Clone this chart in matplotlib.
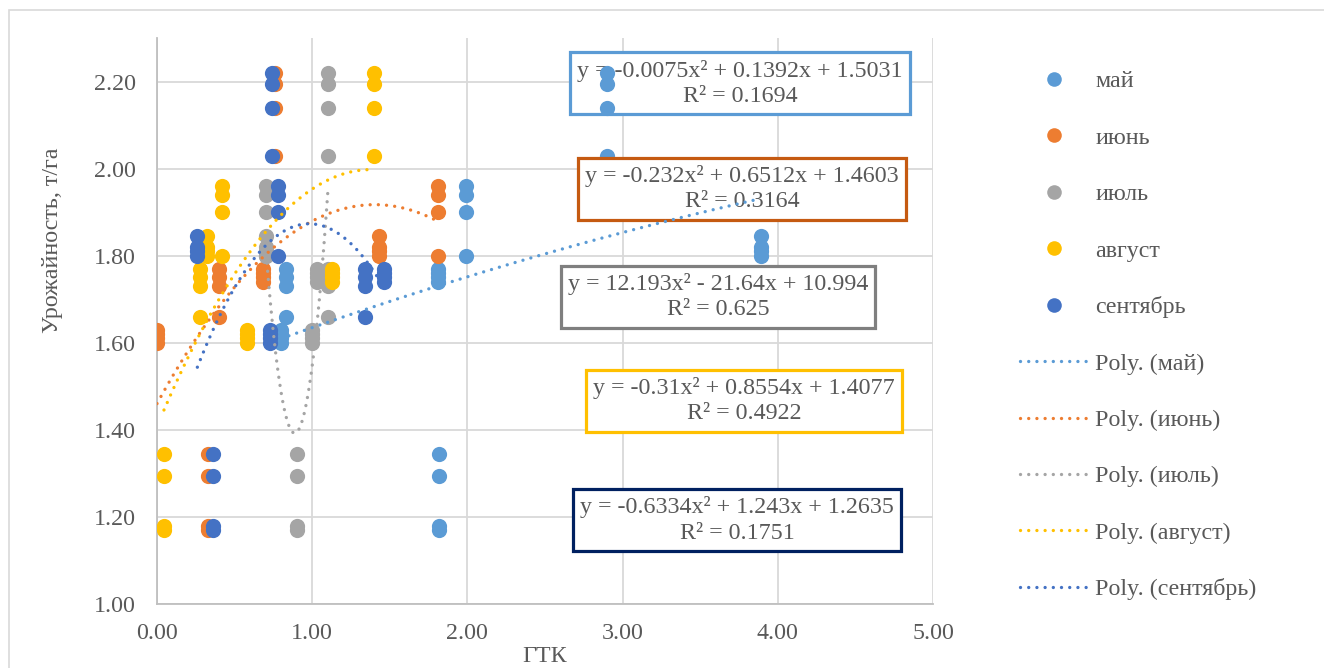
import matplotlib
matplotlib.use('Agg')
import matplotlib.pyplot as plt
from matplotlib.lines import Line2D
from matplotlib.patches import Rectangle
import numpy as np

plt.rcParams['font.family'] = ['Liberation Serif', 'DejaVu Serif']

# урожайность, т/га (одни и те же значения для всех месяцев)
yield_t_ha = [2.22, 2.195, 2.14, 2.03,
              1.96, 1.94, 1.90, 1.80,
              1.845, 1.82, 1.81, 1.80,
              1.77, 1.75, 1.73, 1.66,
              1.77, 1.76, 1.75, 1.74,
              1.63, 1.62, 1.61, 1.60,
              1.345, 1.295, 1.18, 1.17]

# ГТК по месяцам
gtk_may = [2.90, 2.90, 2.90, 2.90,
           1.99, 1.99, 1.99, 1.99,
           3.89, 3.89, 3.89, 3.89,
           0.83, 0.83, 0.83, 0.83,
           1.81, 1.81, 1.81, 1.81,
           0.80, 0.80, 0.80, 0.80,
           1.82, 1.82, 1.82, 1.82]
gtk_jun = [0.76, 0.76, 0.76, 0.76,
           1.81, 1.81, 1.81, 1.81,
           1.43, 1.43, 1.43, 1.43,
           0.40, 0.40, 0.40, 0.40,
           0.68, 0.68, 0.68, 0.68,
           0.00, 0.00, 0.00, 0.00,
           0.33, 0.33, 0.33, 0.33]
gtk_jul = [1.10, 1.10, 1.10, 1.10,
           0.70, 0.70, 0.70, 0.70,
           0.70, 0.70, 0.70, 0.70,
           1.10, 1.10, 1.10, 1.10,
           1.03, 1.03, 1.03, 1.03,
           1.00, 1.00, 1.00, 1.00,
           0.90, 0.90, 0.90, 0.90]
gtk_aug = [1.40, 1.40, 1.40, 1.40,
           0.42, 0.42, 0.42, 0.42,
           0.32, 0.32, 0.32, 0.32,
           0.28, 0.28, 0.28, 0.28,
           1.13, 1.13, 1.13, 1.13,
           0.58, 0.58, 0.58, 0.58,
           0.045, 0.045, 0.045, 0.045]
gtk_sep = [0.74, 0.74, 0.74, 0.74,
           0.78, 0.78, 0.78, 0.78,
           0.26, 0.26, 0.26, 0.26,
           1.34, 1.34, 1.34, 1.34,
           1.46, 1.46, 1.46, 1.46,
           0.73, 0.73, 0.73, 0.73,
           0.36, 0.36, 0.36, 0.36]

months = ['май', 'июнь', 'июль', 'август', 'сентябрь']
colors = ['#5B9BD5', '#ED7D31', '#A5A5A5', '#FFC000', '#4472C4']
box_colors = ['#5B9BD5', '#C55A11', '#7F7F7F', '#FFC000', '#002060']

# коэффициенты полиномиальных трендов (как в подписях)
poly_coefs = [[-0.0075, 0.1392, 1.5031],
              [-0.232, 0.6512, 1.4603],
              [12.193, -21.64, 10.994],
              [-0.31, 0.8554, 1.4077],
              [-0.6334, 1.243, 1.2635]]
eq_labels = ['y = -0.0075x² + 0.1392x + 1.5031\nR² = 0.1694',
             'y = -0.232x² + 0.6512x + 1.4603\nR² = 0.3164',
             'y = 12.193x² - 21.64x + 10.994\nR² = 0.625',
             'y = -0.31x² + 0.8554x + 1.4077\nR² = 0.4922',
             'y = -0.6334x² + 1.243x + 1.2635\nR² = 0.1751']
# положение подписей (центр рамки, в координатах осей)
eq_pos = [(3.757, 2.196), (3.769, 1.954), (3.615, 1.706), (3.782, 1.467), (3.737, 1.193)]
# подпись мая лежит под точками, остальные - поверх точек
eq_z = [2.5, 3.5, 3.5, 3.5, 3.5]

gtk_all = [gtk_may, gtk_jun, gtk_jul, gtk_aug, gtk_sep]

txt_color = '#595959'
fs = 17.3
dot_style = (0, (0.01, 2.45))

fig = plt.figure(figsize=(13.24, 6.68), dpi=100)
ax = fig.add_axes([157/1324, 1 - 604/668, (933-157)/1324, (604-38)/668])

for i, xs in enumerate(gtk_all):
    ax.scatter(xs, yield_t_ha, s=120, color=colors[i], linewidths=0, zorder=3)

for i, xs in enumerate(gtk_all):
    xx = np.linspace(min(xs), max(xs), 300)
    yy = np.polyval(poly_coefs[i], xx)
    ax.plot(xx, yy, color=colors[i], lw=2.4, linestyle=dot_style,
            dash_capstyle='round', zorder=4)

for i in range(5):
    ax.text(eq_pos[i][0], eq_pos[i][1], eq_labels[i], ha='center', va='center',
            fontsize=fs, color=txt_color, linespacing=1.28, zorder=eq_z[i],
            bbox=dict(boxstyle='square,pad=0.3', fc='white', ec=box_colors[i], lw=2.3))

ax.set_xlim(0, 5)
ax.set_ylim(1.0, 2.3)
ax.set_xticks(np.arange(0, 5.01, 1.0))
ax.set_yticks(np.arange(1.0, 2.21, 0.2))
ax.xaxis.set_major_formatter(matplotlib.ticker.FormatStrFormatter('%.2f'))
ax.yaxis.set_major_formatter(matplotlib.ticker.FormatStrFormatter('%.2f'))
ax.tick_params(length=0, labelsize=fs, labelcolor=txt_color)
ax.tick_params(axis='y', pad=15)
ax.tick_params(axis='x', pad=14)
ax.grid(True, color='#D9D9D9', lw=1.3, zorder=0)
ax.set_axisbelow(True)
for s in ['top', 'right']:
    ax.spines[s].set_visible(False)
for s in ['left', 'bottom']:
    ax.spines[s].set_color('#BFBFBF')
    ax.spines[s].set_linewidth(1.3)

fig.text(545/1324, 1 - 656/668, 'ГТК', ha='center', va='center', fontsize=fs, color=txt_color)
fig.text(53/1324, 1 - 240/668, 'Урожайность, т/га', ha='center', va='center',
         rotation=90, fontsize=fs, color=txt_color)

handles = []
labels = []
for i in range(5):
    handles.append(Line2D([], [], marker='o', ls='none', color=colors[i], markersize=10.5, markeredgewidth=0))
    labels.append(months[i])
for i in range(5):
    handles.append(Line2D([], [], color=colors[i], lw=2.4, linestyle=dot_style, dash_capstyle='round'))
    labels.append('Poly. (' + months[i] + ')')
leg = fig.legend(handles, labels, loc='upper left', bbox_to_anchor=(1020/1324, 1 - 70.5/668),
                 bbox_transform=fig.transFigure, frameon=False, fontsize=fs,
                 handlelength=2.8, handletextpad=0.33, labelspacing=1.44, borderpad=0,
                 borderaxespad=0)
for t in leg.get_texts():
    t.set_color(txt_color)

# рамка диаграммы
fig.add_artist(Rectangle((9/1324, -0.1), 1.2, 1.1 - 10/668, transform=fig.transFigure,
                         fill=False, ec='#D9D9D9', lw=1.2))

fig.savefig('out.png', dpi=100)
